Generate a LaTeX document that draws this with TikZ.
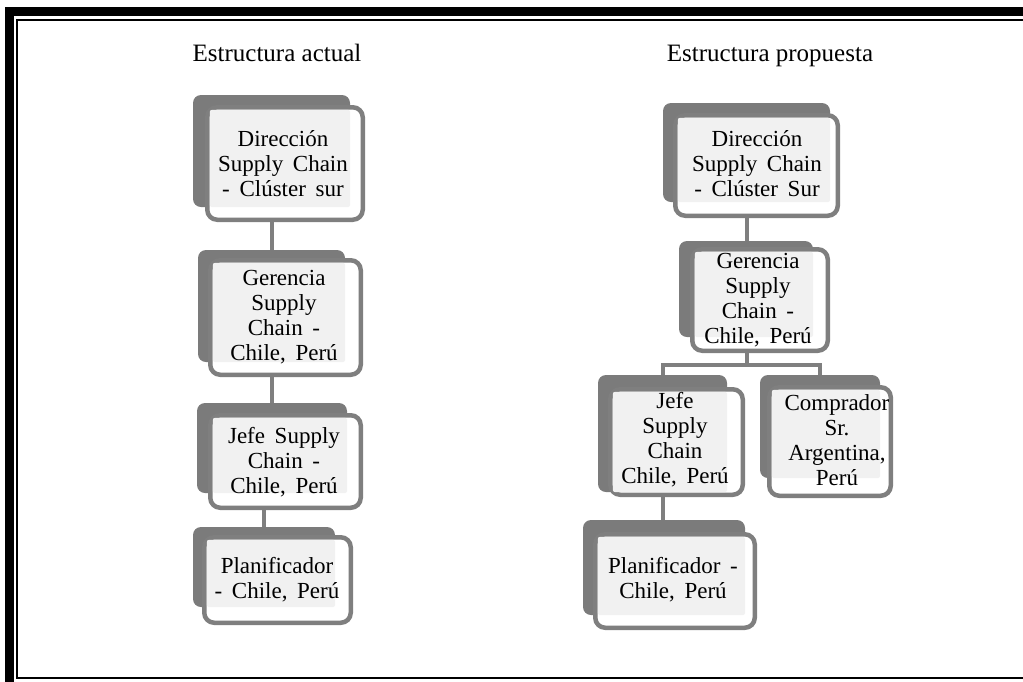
\documentclass[tikz,border=0pt]{standalone}
\usepackage{fontspec}
\setmainfont{Liberation Serif}
\definecolor{backgray}{HTML}{7B7B7B}
\definecolor{edgegray}{HTML}{7F7F7F}
\definecolor{fillgray}{HTML}{F1F1F1}
\newcommand{\cardfont}{\fontsize{23}{25}\selectfont\spaceskip=0.42em plus 0.1em\relax}
\tikzset{
  backbox/.style={fill=backgray, rounded corners=8pt, inner sep=0pt, outer sep=0pt},
  frontbox/.style={fill=white, draw=edgegray, line width=4.5pt, rounded corners=10pt, inner sep=0pt, outer sep=0pt},
  boxtext/.style={align=center, inner sep=0pt, font=\cardfont},
  heading/.style={inner sep=0pt, anchor=base, font=\fontsize{25}{28}\selectfont},
  conn/.style={draw=edgegray, line width=4pt},
}
% one card: back plate, front frame and grey text panel
\newcommand{\orgcard}[9]{%
  \node[backbox, minimum width=#4, minimum height=#5] (#1b) at (#2,#3) {};
  \node[frontbox, minimum width=#8, minimum height=#9] (#1f) at (#6,#7) {};
  \fill[fillgray, rounded corners=2pt] ([shift={(2.6,2.6)}]#1f.north west) rectangle (#1b.south east);
}
\begin{document}
\begin{tikzpicture}[x=1pt, y=-1pt]
\useasboundingbox (0,0) rectangle (1023,681);
% page frame: thick outer rule and thin inner rule
\draw[line width=8.5pt] (9.5,690) -- (9.5,11.5) -- (1035,11.5);
\draw[line width=2pt] (1035,19.5) -- (17,19.5) -- (17,678) -- (1035,678);

% headings
\node[heading] (hleft) at (277,61) {Estructura actual};
\node[heading] (hright) at (770,61) {Estructura propuesta};

% connector start points
\coordinate (c1) at (271.5,222);
\coordinate (c2) at (271.5,377);
\coordinate (c3) at (264,510);
\coordinate (c4) at (746.5,218);
\coordinate (c5) at (746.5,353);
\coordinate (bar) at (746.5,365);
\coordinate (c6) at (663,497);

% current structure
\orgcard{La}{271.5}{151}{157}{112}{285}{163.5}{155.5}{112.5}
\node[boxtext] (Lat) at (283,164) {Dirección\\Supply Chain\\- Clúster sur};
\orgcard{Lb}{271.5}{306}{147}{112}{285.5}{317.5}{150.5}{114.5}
\node[boxtext] (Lbt) at (284,317) {Gerencia\\Supply\\Chain -\\Chile, Perú};
\orgcard{Lc}{272}{448}{150}{90}{285.5}{461.5}{150.5}{92.5}
\node[boxtext] (Lct) at (284,462) {Jefe Supply\\Chain -\\Chile, Perú};
\orgcard{Ld}{264}{567}{142}{80}{277.5}{580}{146.5}{85.5}
\node[boxtext] (Ldt) at (277,580) {Planificador\\- Chile, Perú};

\draw[conn] (c1) -- (c1 |- Lbb.north);
\draw[conn] (c2) -- (c2 |- Lcb.north);
\draw[conn] (c3) -- (c3 |- Ldb.north);

% proposed structure
\orgcard{Ra}{746.5}{152.5}{167}{99}{756.5}{165.5}{162.5}{100.5}
\node[boxtext] (Rat) at (757,164) {Dirección\\Supply Chain\\- Clúster Sur};
\orgcard{Rb}{746}{289}{134}{96}{760}{300}{135.5}{101.5}
\node[boxtext] (Rbt) at (758,300) {Gerencia\\Supply\\Chain -\\Chile, Perú};
\orgcard{Rc}{662.5}{433.5}{129}{117}{676.5}{442}{132.5}{105.5}
\node[boxtext] (Rct) at (675,440) {Jefe\\Supply\\Chain\\Chile, Perú};
\orgcard{Rd}{820}{426.5}{120}{103}{830}{441.5}{121.5}{108.5}
\node[boxtext] (Rdt) at (837,440) {Comprador\\Sr.\\Argentina,\\Perú};
\orgcard{Re}{664}{567.5}{162}{95}{675}{581}{159.5}{93.5}
\node[boxtext] (Ret) at (673,580) {Planificador -\\Chile, Perú};

\draw[conn] (c4) -- (c4 |- Rbb.north);
\draw[conn] (c5) -- (bar);
\draw[conn] (Rcb.north) -- (Rcb.north |- bar) -- (Rdb.north |- bar) -- (Rdb.north);
\draw[conn] (c6) -- (c6 |- Reb.north);
\end{tikzpicture}
\end{document}
